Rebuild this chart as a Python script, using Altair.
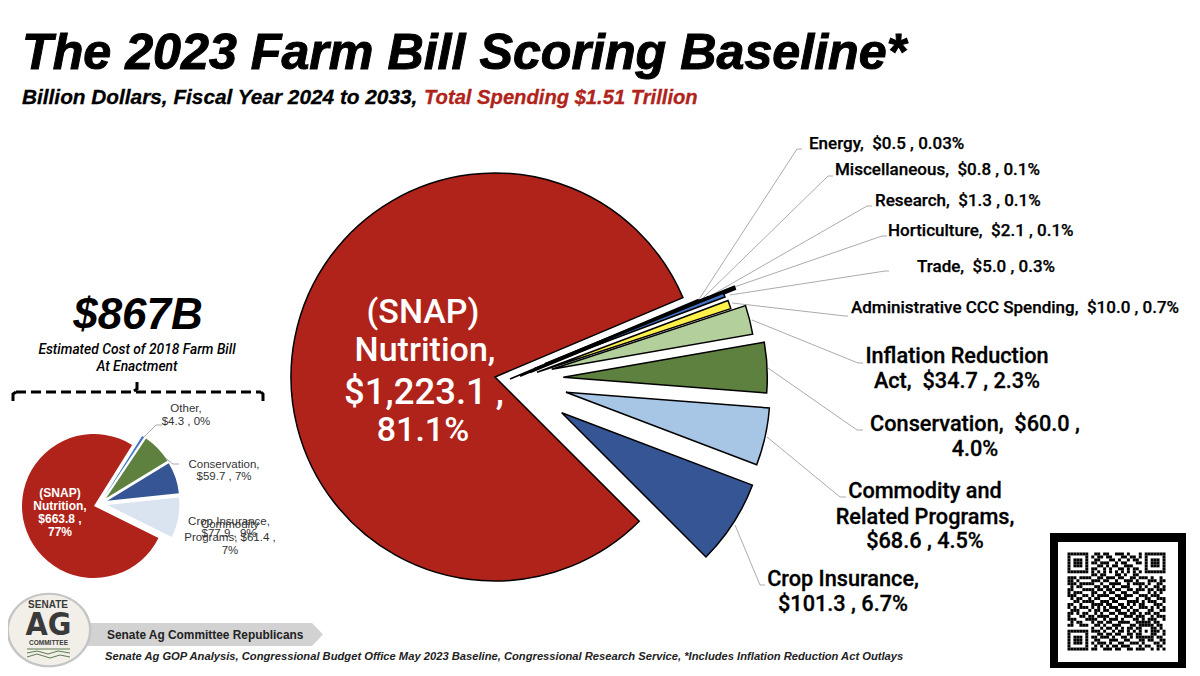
import math
import altair as alt
import pandas as pd

# ---- data ----
main_names = ["SNAP", "Energy", "Miscellaneous", "Research", "Horticulture", "Trade",
              "Administrative CCC", "Inflation Reduction Act", "Conservation", "Commodity", "Crop Insurance"]
main_values = [1223.1, 0.5, 0.8, 1.3, 2.1, 5.0, 10.0, 34.7, 60.0, 68.6, 101.3]
small_names = ["SNAP", "Other", "Conservation", "Commodity", "Crop Insurance"]
small_values = [663.8, 4.3, 59.7, 61.4, 77.9]

# ---- styling and layout ----
main_colors = ["#B0231A", "#111111", "#111111", "#111111", "#111111", "#4472C4",
               "#FFF04A", "#B3CF9C", "#5E8140", "#A7C6E6", "#355594"]
main_strokes = [1.5, 1.5, 2, 2.5, 3, 1.5, 1.5, 1.5, 1.5, 1.5, 1.5]
small_colors = ["#B0231A", "#4472C4", "#5E8140", "#355594", "#DAE3F0"]
main_cx = [495, 510, 520, 530, 545, 534, 537, 551.7, 563.3, 566, 561.7]
main_cy = [377, 379, 376, 372, 364.5, 368.7, 372.3, 369.3, 377.3, 392.3, 412.7]
small_cx = [94, 104, 106, 107.3, 107.3]
small_cy = [506, 497, 498.3, 500.7, 505]
MAIN_START = 135 * math.pi / 180
SMALL_START = 116.4 * math.pi / 180

SX = alt.Scale(domain=[8, 1192], range=[0, 1184])
SY = alt.Scale(domain=[8, 668], range=[0, 660])
X = alt.X("x:Q", scale=SX, axis=None)
Y = alt.Y("y:Q", scale=SY, axis=None)


def pie(names, values, colors, cx, cy, start, radius, strokes=None):
    df = pd.DataFrame({"name": names, "value": values, "color": colors, "x": cx, "y": cy,
                       "i": range(len(names))})
    total = sum(values)
    enc = dict(
        x=X, y=Y,
        theta=alt.Theta("c0:Q", scale=alt.Scale(domain=[0, total], range=[start, start + 2 * math.pi])),
        theta2="c1:Q",
        fill=alt.Fill("color:N", scale=None),
        order=alt.Order("i:Q"),
    )
    mark = {}
    if strokes:
        df["sw"] = strokes
        enc["strokeWidth"] = alt.StrokeWidth("sw:Q", scale=None)
        mark["stroke"] = "black"
    return (
        alt.Chart(df)
        .transform_window(c1="sum(value)", sort=[alt.SortField("i")])
        .transform_calculate(c0="datum.c1 - datum.value")
        .mark_arc(radius=radius, **mark)
        .encode(**enc)
    )


def text(rows, size, font="Liberation Sans", weight="normal", style="normal", color="black", align="center", **kw):
    df = pd.DataFrame(rows, columns=["x", "y", "t"])
    return alt.Chart(df).mark_text(
        fontSize=size, font=font, fontWeight=weight, fontStyle=style, color=color, align=align, baseline="middle", **kw
    ).encode(x=X, y=Y, text="t:N")


def poly(groups, color, width, dash=None):
    rows = []
    for g, pts in enumerate(groups):
        for k, (px, py) in enumerate(pts):
            rows.append({"g": g, "k": k, "x": px, "y": py})
    kw = {"strokeDash": dash} if dash else {}
    return alt.Chart(pd.DataFrame(rows)).mark_line(color=color, strokeWidth=width, **kw).encode(
        x=X, y=Y, detail="g:N", order="k:Q")


def rect(x0, x1, y0, y1, color):
    df = pd.DataFrame({"x": [x0], "x2": [x1], "y": [y0], "y2": [y1]})
    return alt.Chart(df).mark_rect(color=color).encode(x=X, x2="x2:Q", y=Y, y2="y2:Q")


leaders = [
    [(698, 301), (797, 149), (802, 149)],
    [(703, 298), (828, 176), (833, 176)],
    [(710, 296), (867, 206), (872, 206)],
    [(717, 293), (882, 236), (887, 236)],
    [(730, 295), (885, 271), (889, 271)],
    [(732, 303), (845, 316), (848, 316)],
    [(752, 320), (858, 363), (863, 363)],
    [(768, 368), (857, 430), (863, 430)],
    [(767, 437), (840, 497), (846, 497)],
    [(735, 525), (760, 585), (765, 585)],
]
small_leaders = [
    [(143, 438), (156, 425), (162, 425)],
    [(155, 450), (173, 464), (179, 464)],
]

LABEL = "Roboto"
SP = "\u00a0\u00a0"
right_small = text([
    (809, 144, f"Energy,{SP}$0.5 , 0.03%"),
    (835, 170, f"Miscellaneous,{SP}$0.8 , 0.1%"),
    (875, 201, f"Research,{SP}$1.3 , 0.1%"),
    (888, 231, f"Horticulture,{SP}$2.1 , 0.1%"),
    (917, 267, f"Trade,{SP}$5.0 , 0.3%"),
    (851, 308, f"Administrative CCC Spending,{SP}$10.0 , 0.7%"),
], 17, LABEL, 500, align="left", stroke="black", strokeWidth=0.25)
right_big = text([
    (957, 356, "Inflation Reduction"), (957, 381, f"Act,{SP}$34.7 , 2.3%"),
    (975, 424, f"Conservation,{SP}$60.0 ,"), (975, 449, "4.0%"),
    (925, 491, "Commodity and"), (925, 517, "Related Programs,"), (925, 541, "$68.6 , 4.5%"),
    (843, 579, "Crop Insurance,"), (843, 604, "$101.3 , 6.7%"),
], 21.7, LABEL, 500, stroke="black", strokeWidth=0.3)
snap = text([(423, 313, "(SNAP)"), (425, 351, "Nutrition,"), (423, 431, "81.1%")],
            34, LABEL, 500, color="white")
snap2 = text([(424, 393, "$1,223.1 ,")], 36.5, LABEL, 500, color="white")

title = text([(22, 54, "The 2023 Farm Bill Scoring Baseline*")], 50.2, weight="bold", style="italic", align="left",
             stroke="black", strokeWidth=1)
sub1 = text([(22, 98, "Billion Dollars, Fiscal Year 2024 to 2033,")], 20.8, weight="bold", style="italic", align="left",
            stroke="black", strokeWidth=0.3)
sub2 = text([(424, 98, "Total Spending $1.51 Trillion")], 20.2, weight="bold", style="italic", color="#B0231A", align="left",
            stroke="#B0231A", strokeWidth=0.3)

cost = text([(138, 316, "$867B")], 44, weight="bold", style="italic")
cost_sub = text([(137, 350, "Estimated Cost of 2018 Farm Bill"), (137, 367, "At Enactment")], 13.8,
                font=LABEL, weight=500, style="italic")
small_snap = text([(60, 493, "(SNAP)"), (60, 506, "Nutrition,"), (60, 519, "$663.8 ,"), (60, 532, "77%")],
                  12, weight="bold", color="white")
small_lab = text([
    (186, 409, "Other,"), (186, 422, "$4.3 , 0%"),
    (224, 465, "Conservation,"), (224, 477, "$59.7 , 7%"),
    (229, 522, "Crop Insurance,"), (229, 534, "$77.9 , 9%"),
    (230, 525, "Commodity"), (230, 538, "Programs, $61.4 ,"), (230, 551, "7%"),
], 11.5, color="#333333")

bracket_dash = poly([[(16, 392), (261, 392)]], "black", 3, [10, 5])
bracket_solid = poly([[(13, 401), (13, 394), (16, 392)], [(261, 392), (263, 394), (263, 401)],
                      [(134, 391), (137, 389), (137, 382)]], "black", 3)

banner_df = pd.DataFrame({"x": [85, 312, 323], "y": [623, 623, 634.5], "y2": [646, 646, 634.5]})
banner = alt.Chart(banner_df).mark_area(color="#D2D2D2").encode(x=X, y=Y, y2="y2:Q")
banner_t = text([(107, 635, "Senate Ag Committee Republicans")], 11.9, weight="bold", color="#222222", align="left")
footer = text([(105, 657, "Senate Ag GOP Analysis, Congressional Budget Office May 2023 Baseline, Congressional Research Service, *Includes Inflation Reduction Act Outlays")],
              11.2, weight="bold", style="italic", color="#222222", align="left")

ELLIPSE = "M-1,0 A1,0.88 0 1,1 1,0 A1,0.88 0 1,1 -1,0 Z"
logo_pt = pd.DataFrame({"x": [49, 49], "y": [630, 630], "s": [7200, 6400], "c": ["#C4C4C4", "#F1EFE8"]})
logo = alt.Chart(logo_pt).mark_point(shape=ELLIPSE, filled=True, opacity=1).encode(
    x=X, y=Y, size=alt.Size("s:Q", scale=None), fill=alt.Fill("c:N", scale=None), order=alt.Order("s:Q", sort="descending"))
logo_a = text([(48, 605, "SENATE")], 10, weight="bold", color="#3A3A3A")
logo_b = text([(48.5, 625, "AG")], 32, font="DejaVu Sans Condensed", weight="bold", color="#3A3A3A")
logo_c = text([(48.5, 643, "COMMITTEE")], 6.5, weight="bold", color="#3A3A3A")
logo_w = poly([[(27, 649), (70, 649)],
               [(27, 653), (37, 651), (48, 654), (58, 651), (70, 653)],
               [(27, 657), (37, 654), (50, 658), (60, 655), (70, 657)]], "#5E7A50", 1)

qr_rows = [
    "111111100110110011101000101111111",
    "100000101011011000110110101000001",
    "101110100110001101001011001011101",
    "101110101101110010110001101011101",
    "101110100011010110011100001011101",
    "100000101100101001101011001000001",
    "111111101010101010101010101111111",
    "000000001101100011010011000000000",
    "111011110011011101100110111010010",
    "110100001110110010011101000111011",
    "111011111001001111001011110100110",
    "010110000110110100111000101001101",
    "110001111011011011001101110110111",
    "101110001100101100110011000101010",
    "111001101011110011011100111011100",
    "010110010110001101110001001100111",
    "001101111001110110001111010111001",
    "110010001111011001101010110001110",
    "101011101010101110110100111010101",
    "011100010110110011001011000110011",
    "110101100101001101110110101101100",
    "100011011011110010011101110010111",
    "111000111100101110100011010111001",
    "010110001011011001111001111101100",
    "110011100110100111000110111110110",
    "000000001001011010101101100011010",
    "111111101110100101101010101011101",
    "100000100011011011001101100011001",
    "101110101101110100110101111110110",
    "101110100110001110011000110110011",
    "101110101011101001100111010001101",
    "100000100101010110111000101100110",
    "111111101100111011001101110010101",
]
QX, QY, QM = 1067.5, 552.5, 2.97
qr_cells = [{"x": QX + c * QM, "x2": QX + (c + 1) * QM, "y": QY + r * QM, "y2": QY + (r + 1) * QM}
            for r, row in enumerate(qr_rows) for c, ch in enumerate(row) if ch == "1"]
qr = alt.Chart(pd.DataFrame(qr_cells)).mark_rect(color="black").encode(x=X, x2="x2:Q", y=Y, y2="y2:Q")

chart = alt.layer(
    poly(leaders, "#ABABAB", 1),
    pie(main_names, main_values, main_colors, main_cx, main_cy, MAIN_START, 204, strokes=main_strokes),
    snap, snap2, right_small, right_big, title, sub1, sub2,
    cost, cost_sub, bracket_dash, bracket_solid,
    poly(small_leaders, "#ABABAB", 1),
    pie(small_names, small_values, small_colors, small_cx, small_cy, SMALL_START, 72),
    small_snap, small_lab,
    banner, logo, logo_a, logo_b, logo_c, logo_w, banner_t, footer,
    rect(1050, 1186, 533, 670, "black"), rect(1058, 1178, 542, 662, "white"), qr,
).resolve_scale(theta="independent").properties(
    width=1184, height=660, padding=0, background="white",
    autosize=alt.AutoSizeParams(type="none", contains="padding"),
).configure_view(stroke=None)

chart.save("out.html", embed_options={"renderer": "svg", "actions": False})
